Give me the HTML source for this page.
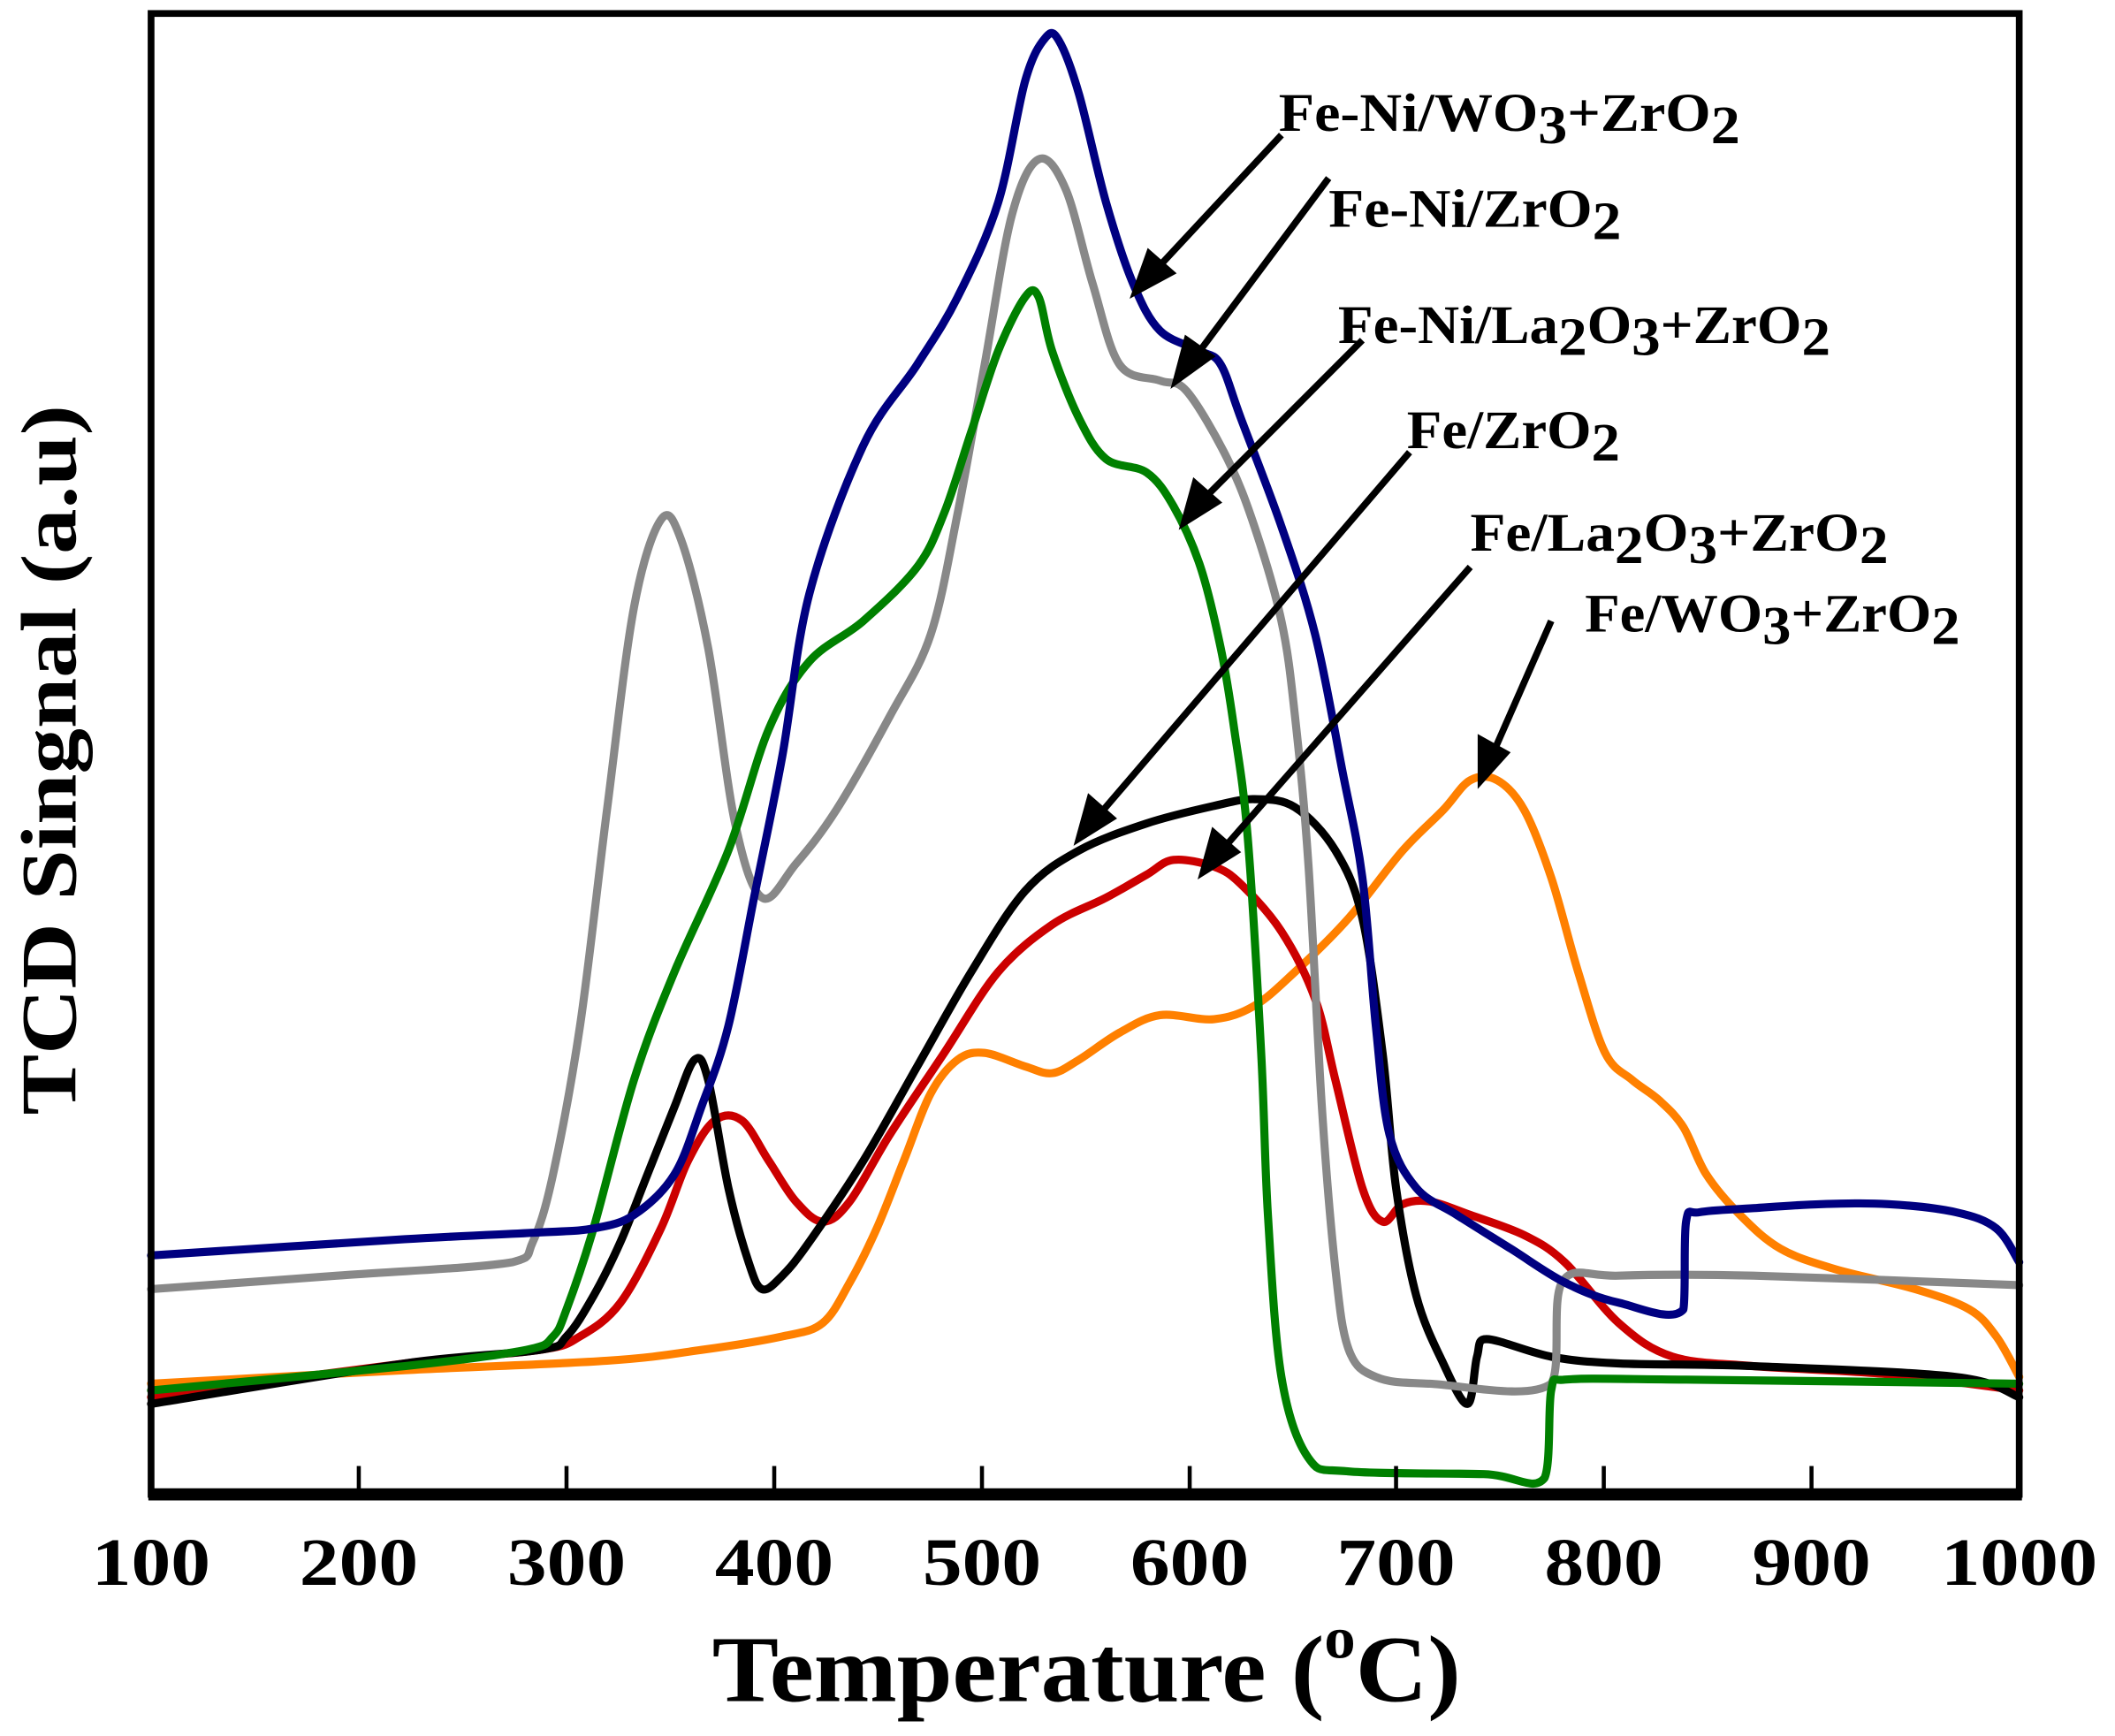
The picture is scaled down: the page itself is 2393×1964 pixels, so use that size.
<!DOCTYPE html>
<html><head><meta charset="utf-8"><style>html,body{margin:0;padding:0;background:#fff}svg{display:block}</style></head>
<body>
<svg id="s" width="2393" height="1964" viewBox="0 0 1568 1286" preserveAspectRatio="none" xmlns="http://www.w3.org/2000/svg" font-family="'Liberation Serif', serif" font-weight="bold">
<rect width="1568" height="1286" fill="#fff"/>
<g fill="none" stroke-width="6" stroke-linejoin="round" stroke-linecap="round">
<polyline class="c" stroke="#ff8000" points="112,1025 300,1015 450,1008 520,1000 580,990 610,980 630,950 650,910 670,860 690,810 710,785 730,780 760,790 780,795 800,785 830,765 860,752 900,755 930,745 960,720 1000,680 1040,630 1070,600 1090,578 1110,578 1130,600 1150,650 1170,720 1190,780 1210,800 1230,815 1248,835 1265,870 1290,900 1320,925 1360,940 1420,955 1460,970 1480,990 1497,1020"/>
<polyline class="c" stroke="#cc0000" points="112,1035 300,1010 400,1000 430,990 460,965 490,910 510,860 530,830 550,830 570,860 590,890 610,905 630,890 660,840 700,780 740,720 780,685 820,665 850,648 870,637 900,642 920,655 950,690 975,740 990,800 1010,880 1025,905 1040,892 1060,890 1090,900 1130,915 1160,935 1200,980 1240,1005 1300,1012 1400,1018 1497,1030"/>
<polyline class="c" stroke="#000" points="112,1040 300,1010 400,1000 420,990 440,960 460,920 480,870 500,820 515,785 525,800 540,880 555,935 565,955 580,945 600,920 640,860 680,790 720,720 760,660 800,630 850,610 900,597 930,592 960,598 990,630 1010,680 1025,780 1035,880 1050,960 1070,1010 1088,1040 1095,1005 1102,992 1150,1005 1200,1010 1300,1012 1450,1020 1497,1035"/>
<polyline class="c" stroke="#888" points="112,955 250,945 380,935 395,920 410,870 430,760 450,600 470,450 490,385 505,400 525,480 545,610 565,665 590,640 620,600 660,530 690,470 710,380 730,270 750,160 770,118 790,140 810,210 830,270 860,282 880,290 910,340 930,390 950,460 960,530 970,640 980,820 990,940 1000,1000 1020,1020 1060,1025 1150,1025 1158,950 1200,945 1300,945 1497,952"/>
<polyline class="c" stroke="#008000" points="112,1030 300,1012 390,1000 410,990 420,970 440,910 470,800 500,720 540,630 570,540 600,490 640,460 680,420 700,380 720,320 740,260 760,220 770,220 780,260 800,310 820,340 850,350 870,375 890,420 905,480 915,540 925,620 935,780 940,900 950,1020 970,1080 1000,1090 1100,1092 1145,1095 1150,1030 1160,1022 1250,1022 1497,1025"/>
<polyline class="c" stroke="#000080" points="112,930 300,918 400,913 440,910 470,900 500,870 520,820 540,760 560,660 580,560 600,440 640,330 680,270 710,220 740,150 760,60 775,28 785,30 800,70 820,150 840,210 860,245 890,260 905,270 920,310 950,390 975,470 995,570 1010,650 1020,760 1030,840 1050,880 1080,900 1120,925 1160,950 1200,965 1248,970 1250,905 1260,898 1300,895 1350,892 1400,892 1450,898 1480,910 1497,935"/>
</g>
<rect x="112" y="10" width="1385" height="1097" fill="none" stroke="#000" stroke-width="5"/>
<line x1="110" y1="1107" x2="1499" y2="1107" stroke="#000" stroke-width="9"/>
<g stroke="#000" stroke-width="3">
<line x1="266" y1="1107" x2="266" y2="1086"/><line x1="420" y1="1107" x2="420" y2="1086"/><line x1="574" y1="1107" x2="574" y2="1086"/><line x1="728" y1="1107" x2="728" y2="1086"/><line x1="882" y1="1107" x2="882" y2="1086"/><line x1="1035" y1="1107" x2="1035" y2="1086"/><line x1="1189" y1="1107" x2="1189" y2="1086"/><line x1="1343" y1="1107" x2="1343" y2="1086"/>
</g>
<g stroke="#000" stroke-width="5" fill="#000">
<line x1="950" y1="100" x2="855" y2="202"/><polygon points="842,216 852,188 868,202"/>
<line x1="985" y1="132" x2="885" y2="266"/><polygon points="872,282 880,252 897,264"/>
<line x1="1010" y1="252" x2="890" y2="372"/><polygon points="878,387 886,358 902,372"/>
<line x1="1045" y1="335" x2="812" y2="607"/><polygon points="800,621 808,592 824,606"/>
<line x1="1090" y1="420" x2="904" y2="632"/><polygon points="892,646 900,617 916,631"/>
<line x1="1150" y1="460" x2="1106" y2="560"/><polygon points="1098,578 1098,548 1116,558"/>
</g>
<g font-size="50" fill="#000" text-anchor="middle">
<text x="112" y="1174" textLength="88" lengthAdjust="spacingAndGlyphs">100</text>
<text x="266" y="1174" textLength="88" lengthAdjust="spacingAndGlyphs">200</text>
<text x="420" y="1174" textLength="88" lengthAdjust="spacingAndGlyphs">300</text>
<text x="574" y="1174" textLength="88" lengthAdjust="spacingAndGlyphs">400</text>
<text x="728" y="1174" textLength="88" lengthAdjust="spacingAndGlyphs">500</text>
<text x="882" y="1174" textLength="88" lengthAdjust="spacingAndGlyphs">600</text>
<text x="1035" y="1174" textLength="88" lengthAdjust="spacingAndGlyphs">700</text>
<text x="1189" y="1174" textLength="88" lengthAdjust="spacingAndGlyphs">800</text>
<text x="1343" y="1174" textLength="88" lengthAdjust="spacingAndGlyphs">900</text>
<text x="1497" y="1174" textLength="116" lengthAdjust="spacingAndGlyphs">1000</text>
</g>
<text x="528" y="1260" font-size="70" textLength="555" lengthAdjust="spacingAndGlyphs">Temperature (<tspan font-size="44" dy="-32">o</tspan><tspan dy="32">C)</tspan></text>
<text transform="translate(56,826) rotate(-90)" font-size="58" textLength="526" lengthAdjust="spacingAndGlyphs">TCD Singnal (a.u)</text>
<g font-size="40" fill="#000">
<text x="948" y="97" textLength="342" lengthAdjust="spacingAndGlyphs">Fe-Ni/WO<tspan dy="9">3</tspan><tspan dy="-9">+ZrO</tspan><tspan dy="9">2</tspan></text>
<text x="985" y="168" textLength="217" lengthAdjust="spacingAndGlyphs">Fe-Ni/ZrO<tspan dy="9">2</tspan></text>
<text x="992" y="254" textLength="365" lengthAdjust="spacingAndGlyphs">Fe-Ni/La<tspan dy="9">2</tspan><tspan dy="-9">O</tspan><tspan dy="9">3</tspan><tspan dy="-9">+ZrO</tspan><tspan dy="9">2</tspan></text>
<text x="1043" y="332" textLength="158" lengthAdjust="spacingAndGlyphs">Fe/ZrO<tspan dy="9">2</tspan></text>
<text x="1090" y="408" textLength="310" lengthAdjust="spacingAndGlyphs">Fe/La<tspan dy="9">2</tspan><tspan dy="-9">O</tspan><tspan dy="9">3</tspan><tspan dy="-9">+ZrO</tspan><tspan dy="9">2</tspan></text>
<text x="1175" y="468" textLength="278" lengthAdjust="spacingAndGlyphs">Fe/WO<tspan dy="9">3</tspan><tspan dy="-9">+ZrO</tspan><tspan dy="9">2</tspan></text>
</g>
</svg>
<script>
(function(){
var NS="http://www.w3.org/2000/svg";
document.querySelectorAll("polyline.c").forEach(function(pl){
 var p=pl.getAttribute("points").trim().split(/\s+/).map(function(s){var a=s.split(",");return [+a[0],+a[1]];});
 var d="M"+p[0][0]+","+p[0][1];
 for(var i=0;i<p.length-1;i++){
  var p0=p[i-1]||p[i],p1=p[i],p2=p[i+1],p3=p[i+2]||p2;
  var t=0.5/3;
  var c1x=p1[0]+(p2[0]-p0[0])*t,c1y=p1[1]+(p2[1]-p0[1])*t;
  var c2x=p2[0]-(p3[0]-p1[0])*t,c2y=p2[1]-(p3[1]-p1[1])*t;
  if(c1x<p1[0])c1x=p1[0]; if(c1x>p2[0])c1x=p2[0];
  if(c2x<p1[0])c2x=p1[0]; if(c2x>p2[0])c2x=p2[0];
  d+=" C"+c1x.toFixed(1)+","+c1y.toFixed(1)+" "+c2x.toFixed(1)+","+c2y.toFixed(1)+" "+p2[0]+","+p2[1];
 }
 var path=document.createElementNS(NS,"path");
 path.setAttribute("d",d);path.setAttribute("stroke",pl.getAttribute("stroke"));
 pl.parentNode.replaceChild(path,pl);
});
})();
</script>
</body></html>
